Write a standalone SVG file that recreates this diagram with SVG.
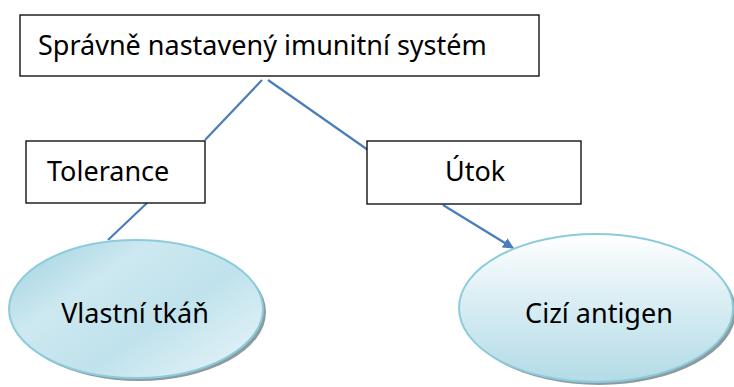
<svg xmlns="http://www.w3.org/2000/svg" width="734" height="387" viewBox="0 0 734 387">
<style>
.box{fill:#fff;stroke:#000;stroke-width:1.3}
.lbl{font-family:"Noto Sans","Open Sans",sans-serif;font-size:27px;fill:#000}
.con{stroke:#4a7ebb;stroke-width:2.2;fill:none}
.ell{stroke:#8ccbdb;stroke-width:2}
.shadow{fill:#8c9ba0}
</style>
<defs>
<linearGradient id="gL" x1="0" y1="0.1" x2="1" y2="0.9">
<stop offset="0" stop-color="#a3d4e2"/>
<stop offset="0.3" stop-color="#cde8f0"/>
<stop offset="0.6" stop-color="#c0e2ec"/>
<stop offset="1" stop-color="#e6f4f8"/>
</linearGradient>
<linearGradient id="gR" x1="0" y1="0" x2="0" y2="1">
<stop offset="0" stop-color="#ffffff"/>
<stop offset="0.45" stop-color="#daeef4"/>
<stop offset="1" stop-color="#b3dbe6"/>
</linearGradient>
<marker id="arr" viewBox="0 0 10 10" refX="9" refY="5" markerWidth="5" markerHeight="5" orient="auto" markerUnits="strokeWidth">
<path d="M0,0 L10,5 L0,10 z" fill="#4a7ebb"/>
</marker>
</defs>
<g id="connectors">
<line class="con" x1="262" y1="80" x2="205" y2="140"/>
<line class="con" x1="268" y1="80" x2="368" y2="150"/>
<line class="con" x1="147" y1="203" x2="108" y2="240"/>
<line class="con" x1="443" y1="205" x2="513" y2="248" marker-end="url(#arr)"/>
</g>
<g id="node-system">
<rect class="box" x="20" y="15" width="519" height="61"/>
<text class="lbl" x="38" y="55">Správně nastavený imunitní systém</text>
</g>
<g id="node-tolerance">
<rect class="box" x="26" y="141" width="179" height="62"/>
<text class="lbl" x="47" y="181">Tolerance</text>
</g>
<g id="node-utok">
<rect class="box" x="367" y="141" width="214" height="63"/>
<text class="lbl" x="445" y="181">Útok</text>
</g>
<g id="node-vlastni">
<ellipse class="shadow" cx="139" cy="312" rx="127" ry="69"/>
<ellipse class="ell" cx="136" cy="309" rx="127" ry="69" fill="url(#gL)"/>
<text class="lbl" x="135" y="323" text-anchor="middle">Vlastní tkáň</text>
</g>
<g id="node-cizi">
<ellipse class="shadow" cx="599" cy="311" rx="137" ry="74"/>
<ellipse class="ell" cx="596" cy="308" rx="137" ry="74" fill="url(#gR)"/>
<text class="lbl" x="599" y="323" text-anchor="middle">Cizí antigen</text>
</g>
</svg>
